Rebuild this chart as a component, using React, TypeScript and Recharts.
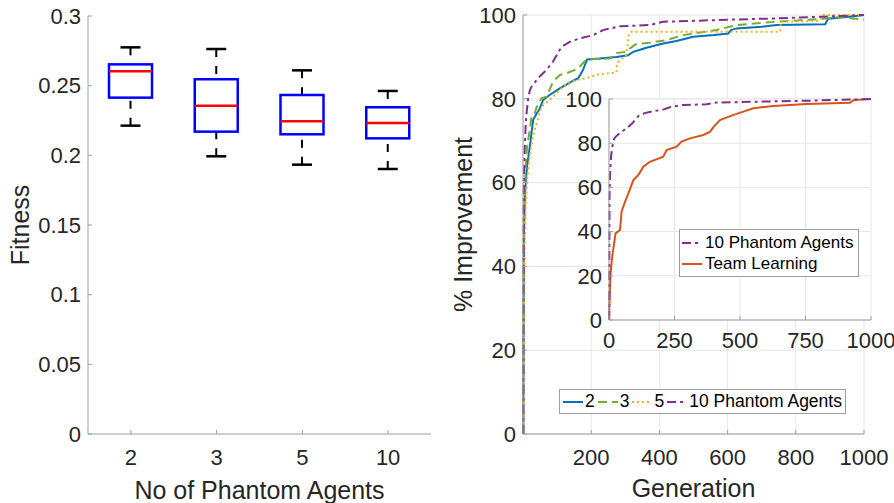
import React from "react";
import { BarChart, Bar, LineChart, Line, XAxis, YAxis, CartesianGrid, Legend, Label } from "recharts";

// Fitness distribution per number of phantom agents
const groups = ["2", "3", "5", "10"];
const whiskerLow = [0.2213, 0.1993, 0.1933, 0.1902];
const quartile1 = [0.2414, 0.217, 0.2151, 0.2122];
const medians = [0.2603, 0.2356, 0.2244, 0.2232];
const quartile3 = [0.2653, 0.2546, 0.2433, 0.2345];
const whiskerHigh = [0.2775, 0.2763, 0.261, 0.2462];
const fitnessTicks = [0, 0.05, 0.1, 0.15, 0.2, 0.25, 0.3];

// % improvement over generations: [generation, percent]
const agents2: [number, number][] = [
  [1, 0], [2, 35], [3, 48], [5, 55], [8, 60], [12, 64], [20, 68.6], [26, 72.6], [30, 75], [40, 76.5],
  [47, 77.3], [59, 79.7], [78, 80.9], [108, 82.5], [142, 84.1], [162, 84.9], [176, 86.9], [188, 89.4],
  [225, 89.6], [274, 90.0], [308, 90.4], [323, 91.2], [362, 92.2], [411, 93.2], [450, 93.8], [499, 94.8],
  [560, 95.2], [602, 95.6], [610, 96.4], [626, 96.8], [700, 97.2], [744, 97.6], [886, 97.8], [895, 99.1],
  [950, 99.5], [1000, 100],
];
const agents3: [number, number][] = [
  [1, 0], [2, 40], [3, 50], [5, 58], [8, 64], [12, 68.6], [20, 72.6], [25, 75.9], [34, 76.5], [40, 78],
  [54, 80.1], [69, 80.5], [88, 84.1], [108, 85.7], [125, 86], [161, 87.2], [186, 89.4], [254, 89.6],
  [274, 90.9], [300, 91.2], [330, 93.0], [372, 93.4], [420, 94.0], [470, 95.2], [567, 96.4], [626, 97.6],
  [744, 98.4], [880, 99.1], [940, 99.6], [960, 99.2], [1000, 98.9],
];
const agents5: [number, number][] = [
  [1, 0], [3, 30], [5, 45], [8, 55], [12, 60.6], [18, 65], [24, 68.6], [34, 72.6], [49, 76.6], [54, 78.1],
  [78, 79.7], [88, 80.5], [108, 82.1], [127, 83.7], [156, 84.5], [186, 84.9], [215, 85.7], [274, 86.3],
  [276, 88.5], [303, 90.5], [311, 95.6], [318, 96.0], [754, 96.0], [756, 98.4], [870, 98.6], [880, 100],
  [1000, 100],
];
const agents10: [number, number][] = [
  [1, 0], [2, 55], [3, 62], [5, 68], [8, 74], [11, 77], [15, 80], [20, 82], [25, 82.9], [44, 84.9],
  [69, 86.9], [88, 88.9], [113, 92.4], [137, 93.6], [166, 94.4], [206, 95.2], [235, 96.4], [284, 97.3],
  [372, 97.6], [411, 98.4], [500, 98.6], [607, 98.9], [750, 99.2], [880, 99.6], [1000, 100],
];
const teamLearning: [number, number][] = [
  [0, 0], [2, 8], [4, 15], [6, 21.1], [10, 26], [14, 30.2], [20, 35], [25, 39.2], [42, 40.7], [48, 49],
  [61, 53.5], [74, 57.3], [93, 63.3], [112, 65.6], [131, 69.4], [156, 71.6], [207, 73.9], [220, 76.9],
  [258, 78.4], [277, 80.7], [309, 82.2], [360, 83.7], [386, 85.2], [400, 87.5], [424, 90.5], [475, 92.8],
  [513, 94.3], [551, 95.8], [627, 96.8], [754, 97.7], [920, 98.3], [933, 99.5], [1000, 100],
];
const genTicks = [200, 400, 600, 800, 1000];
const insetGenTicks = [0, 250, 500, 750, 1000];
const pctTicks = [0, 20, 40, 60, 80, 100];

const boxData = groups.map((group, i) => ({
  group,
  lo: whiskerLow[i],
  q1: quartile1[i],
  med: medians[i],
  q3: quartile3[i],
  hi: whiskerHigh[i],
}));
const toPoints = (rows: [number, number][]) => rows.map(([gen, pct]) => ({ gen, pct }));

const FONT = '"Liberation Sans", Arial, Helvetica, sans-serif';
const TEXT = "#262626";
const AXIS = "#9e9e9e";
const GRID = "#e6e6e6";
const BLUE = "#0072BD";
const GREEN = "#77AC30";
const YELLOW = "#EDB120";
const PURPLE = "#7E2F8E";
const ORANGE = "#D95319";
const DASH = "9 5";
const DOT = "2 3";
const DASHDOT = "9 4 3 4";

const tick = { fill: TEXT, fontSize: 22, fontFamily: FONT };

function BoxShape(props: any) {
  const { x, y, width, height, payload } = props;
  const top = Math.min(y, y + height);
  const bottom = Math.max(y, y + height);
  const py = (v: number) => bottom - ((v - payload.lo) / (payload.hi - payload.lo)) * (bottom - top);
  const cx = x + width / 2;
  const cap = 10;
  return (
    <g>
      <line x1={cx} x2={cx} y1={py(payload.hi)} y2={py(payload.q3)} stroke="#000" strokeWidth={2} strokeDasharray="8 9" />
      <line x1={cx} x2={cx} y1={py(payload.lo)} y2={py(payload.q1)} stroke="#000" strokeWidth={2} strokeDasharray="8 9" />
      <line x1={cx - cap} x2={cx + cap} y1={py(payload.hi)} y2={py(payload.hi)} stroke="#000" strokeWidth={2.5} />
      <line x1={cx - cap} x2={cx + cap} y1={py(payload.lo)} y2={py(payload.lo)} stroke="#000" strokeWidth={2.5} />
      <rect x={x} y={py(payload.q3)} width={width} height={py(payload.q1) - py(payload.q3)} fill="none" stroke="#0000ff" strokeWidth={2.5} />
      <line x1={x} x2={x + width} y1={py(payload.med)} y2={py(payload.med)} stroke="#ff0000" strokeWidth={2.5} />
    </g>
  );
}

function VTitle({ viewBox, text, dx }: any) {
  const cx = viewBox.x + dx;
  const cy = viewBox.y + viewBox.height / 2;
  return (
    <text x={cx} y={cy} transform={`rotate(-90 ${cx} ${cy})`} textAnchor="middle" dominantBaseline="central" fill={TEXT} fontSize={25} fontFamily={FONT}>
      {text}
    </text>
  );
}

function HTitle({ viewBox, text, dy }: any) {
  const cx = viewBox.x + viewBox.width / 2;
  const cy = viewBox.y + dy;
  return (
    <text x={cx} y={cy} textAnchor="middle" dominantBaseline="central" fill={TEXT} fontSize={25} fontFamily={FONT}>
      {text}
    </text>
  );
}

function Swatch({ color, dash }: { color: string; dash?: string }) {
  return (
    <svg width={20} height={6} style={{ display: "block", marginRight: 2 }}>
      <line x1={0} x2={20} y1={3} y2={3} stroke={color} strokeWidth={2} strokeDasharray={dash} />
    </svg>
  );
}

const mainLegend = [
  { name: "2", color: BLUE, dash: undefined },
  { name: "3", color: GREEN, dash: DASH },
  { name: "5", color: YELLOW, dash: DOT },
  { name: "10 Phantom Agents", color: PURPLE, dash: DASHDOT },
];
const insetLegend = [
  { name: "10 Phantom Agents", color: PURPLE, dash: DASHDOT },
  { name: "Team Learning", color: ORANGE, dash: undefined },
];

const legendBox = {
  background: "#fff",
  border: `1px solid ${AXIS}`,
  fontFamily: FONT,
  fontSize: 17.5,
  color: "#000",
  boxSizing: "border-box" as const,
};

function MainLegend() {
  return (
    <div style={{ ...legendBox, display: "flex", alignItems: "center", height: 25, padding: "0 3px" }}>
      {mainLegend.map((e, i) => (
        <div key={e.name} style={{ display: "flex", alignItems: "center", marginRight: i < mainLegend.length - 1 ? 3 : 0 }}>
          <Swatch color={e.color} dash={e.dash} />
          <span>{e.name}</span>
        </div>
      ))}
    </div>
  );
}

function InsetLegend() {
  return (
    <div style={{ ...legendBox, width: 180, height: 48, padding: "3px 0 0 2px", fontSize: 17 }}>
      {insetLegend.map((e) => (
        <div key={e.name} style={{ display: "flex", alignItems: "center", height: 20.6 }}>
          <Swatch color={e.color} dash={e.dash} />
          <span style={{ marginLeft: 1 }}>{e.name}</span>
        </div>
      ))}
    </div>
  );
}

function FitnessBoxPlot() {
  return (
    <BarChart width={450} height={503} data={boxData} margin={{ top: 16, right: 19, bottom: 9, left: 28 }} barSize={43}>
      <XAxis dataKey="group" height={60} tick={tick} stroke={AXIS} tickSize={-4} tickMargin={19} interval={0}>
        <Label content={<HTitle text="No of Phantom Agents" dy={56} />} />
      </XAxis>
      <XAxis xAxisId="top" dataKey="group" orientation="top" height={0} stroke={AXIS} tickSize={-4} tick={false} />
      <YAxis type="number" domain={[0, 0.3]} ticks={fitnessTicks} width={60} tick={tick} stroke={AXIS} tickSize={-4} tickMargin={11} interval={0}>
        <Label content={<VTitle text="Fitness" dx={-8} />} />
      </YAxis>
      <YAxis yAxisId="right" orientation="right" type="number" domain={[0, 0.3]} ticks={fitnessTicks} width={0} stroke={AXIS} tickSize={-4} tick={false} />
      <Bar dataKey={(d: any) => [d.lo, d.hi]} shape={<BoxShape />} isAnimationActive={false} />
    </BarChart>
  );
}

function ImprovementChart() {
  return (
    <LineChart width={474} height={503} margin={{ top: 15, right: 30, bottom: 9, left: 43 }}>
      <CartesianGrid stroke={GRID} />
      <XAxis dataKey="gen" type="number" domain={[0, 1000]} ticks={genTicks} height={60} tick={tick} stroke={AXIS} tickSize={-4} tickMargin={19} interval={0}>
        <Label content={<HTitle text="Generation" dy={54} />} />
      </XAxis>
      <XAxis xAxisId="top" dataKey="gen" type="number" orientation="top" domain={[0, 1000]} ticks={genTicks} height={0} stroke={AXIS} tickSize={-4} tick={false} />
      <YAxis type="number" domain={[0, 100]} ticks={pctTicks} width={60} tick={tick} stroke={AXIS} tickSize={-4} tickMargin={11} interval={0}>
        <Label content={<VTitle text="% Improvement" dx={0} />} />
      </YAxis>
      <YAxis yAxisId="right" orientation="right" type="number" domain={[0, 100]} ticks={pctTicks} width={0} stroke={AXIS} tickSize={-4} tick={false} />
      <Line data={toPoints(agents2)} dataKey="pct" name="2" stroke={BLUE} strokeWidth={2} dot={false} activeDot={false} isAnimationActive={false} />
      <Line data={toPoints(agents3)} dataKey="pct" name="3" stroke={GREEN} strokeWidth={2} strokeDasharray={DASH} dot={false} activeDot={false} isAnimationActive={false} />
      <Line data={toPoints(agents5)} dataKey="pct" name="5" stroke={YELLOW} strokeWidth={2} strokeDasharray={DOT} dot={false} activeDot={false} isAnimationActive={false} />
      <Line data={toPoints(agents10)} dataKey="pct" name="10 Phantom Agents" stroke={PURPLE} strokeWidth={2} strokeDasharray={DASHDOT} dot={false} activeDot={false} isAnimationActive={false} />
      <Legend layout="horizontal" verticalAlign="middle" align="center" content={() => <MainLegend />} wrapperStyle={{ left: 139, top: 389, width: "auto", height: "auto" }} />
    </LineChart>
  );
}

function InsetChart() {
  return (
    <LineChart width={354} height={290} margin={{ top: 19, right: 23, bottom: 20, left: 9 }}>
      <CartesianGrid stroke={GRID} fill="#fff" fillOpacity={1} />
      <XAxis dataKey="gen" type="number" domain={[0, 1000]} ticks={insetGenTicks} height={30} tick={tick} stroke={AXIS} tickSize={-4} tickMargin={16} interval={0} />
      <XAxis xAxisId="top" dataKey="gen" type="number" orientation="top" domain={[0, 1000]} ticks={insetGenTicks} height={0} stroke={AXIS} tickSize={-4} tick={false} />
      <YAxis type="number" domain={[0, 100]} ticks={pctTicks} width={60} tick={tick} stroke={AXIS} tickSize={-4} tickMargin={11} interval={0} />
      <YAxis yAxisId="right" orientation="right" type="number" domain={[0, 100]} ticks={pctTicks} width={0} stroke={AXIS} tickSize={-4} tick={false} />
      <Line data={toPoints(teamLearning)} dataKey="pct" name="Team Learning" stroke={ORANGE} strokeWidth={2} dot={false} activeDot={false} isAnimationActive={false} />
      <Line data={toPoints(agents10)} dataKey="pct" name="10 Phantom Agents" stroke={PURPLE} strokeWidth={2} strokeDasharray={DASHDOT} dot={false} activeDot={false} isAnimationActive={false} />
      <Legend layout="horizontal" verticalAlign="middle" align="center" content={() => <InsetLegend />} wrapperStyle={{ left: 139, top: 149, width: "auto", height: "auto" }} />
    </LineChart>
  );
}

export default function App() {
  return (
    <div style={{ position: "absolute", left: 0, top: 0, width: 894, height: 503, overflow: "hidden", background: "#fff", fontFamily: FONT }}>
      <div style={{ position: "absolute", left: 0, top: 0 }}>
        <FitnessBoxPlot />
      </div>
      <div style={{ position: "absolute", left: 420, top: 0 }}>
        <ImprovementChart />
      </div>
      <div style={{ position: "absolute", left: 540, top: 80 }}>
        <InsetChart />
      </div>
    </div>
  );
}
